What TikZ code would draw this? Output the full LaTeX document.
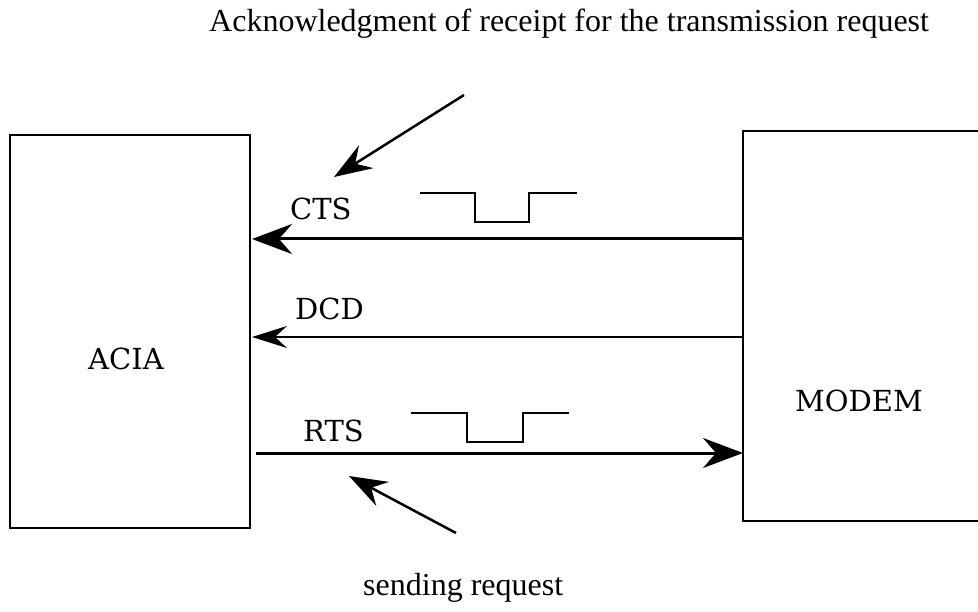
\documentclass[tikz,border=0pt]{standalone}
\usepackage{fontspec}
\setmainfont{Liberation Serif}
\newfontfamily\labelfont{DejaVu Serif}
\usetikzlibrary{arrows.meta}

\tikzset{
  block/.style={draw, line width=2pt, inner sep=0pt, outer sep=0pt},
  sig/.style={font=\labelfont\fontsize{29}{34}\selectfont, inner sep=0pt, anchor=base west},
  note/.style={font=\fontsize{32}{38}\selectfont, inner sep=0pt, anchor=base west},
  thickline/.style={line width=3pt},
  thinline/.style={line width=2pt},
  pulse/.style={line width=2pt, line join=miter},
  bigtip/.style={-{Stealth[length=40pt, width=30pt, inset=13pt]}},
  midtip/.style={-{Stealth[length=35pt, width=22pt, inset=12pt]}},
  notetip/.style={-{Stealth[length=38pt, width=27pt, inset=13pt]}, line width=2.5pt}
}

\begin{document}
\begin{tikzpicture}[x=1pt, y=-1pt]
  \useasboundingbox (0,0) rectangle (978,612);
  \clip (0,0) rectangle (978,612);

  % the two units
  \node[block, minimum width=240pt, minimum height=393pt] (acia) at (130,331.5) {};
  \node[block, minimum width=260pt, minimum height=390pt] (modem) at (873,326) {};
  \node[sig] (aciaText) at (88,370) {ACIA};
  \node[sig] (modemText) at (795,412) {MODEM};

  % handshake lines
  \draw[thickline, bigtip] (modem.west |- 0,239) -- ([xshift=2pt]acia.east |- 0,239);
  \draw[thinline, midtip] (modem.west |- 0,337) -- ([xshift=2pt]acia.east |- 0,337);
  \draw[thickline, bigtip, shorten >=0pt] ([xshift=6pt]acia.east |- 0,453) -- (modem.west |- 0,453);

  \node[sig] (cts) at (290,220) {CTS};
  \node[sig] (dcd) at (295,320) {DCD};
  \node[sig] (rts) at (303,442) {RTS};

  % active-low pulses
  \draw[pulse] (420,193) -- (475,193) -- (475,222) -- (529,222) -- (529,193) -- (577,193);
  \draw[pulse] (411,413) -- (467,413) -- (467,442) -- (523,442) -- (523,413) -- (569,413);

  % annotations
  \node[note] (ack) at (209,32) {Acknowledgment of receipt for the transmission request};
  \node[note] (req) at (363,595) {sending request};

  \coordinate (ackTail) at (464,95);
  \coordinate (ackTip) at (334,177);
  \coordinate (reqTail) at (456,533);
  \coordinate (reqTip) at (349,476);
  \draw[notetip] (ackTail) -- (ackTip);
  \draw[notetip] (reqTail) -- (reqTip);
\end{tikzpicture}
\end{document}
